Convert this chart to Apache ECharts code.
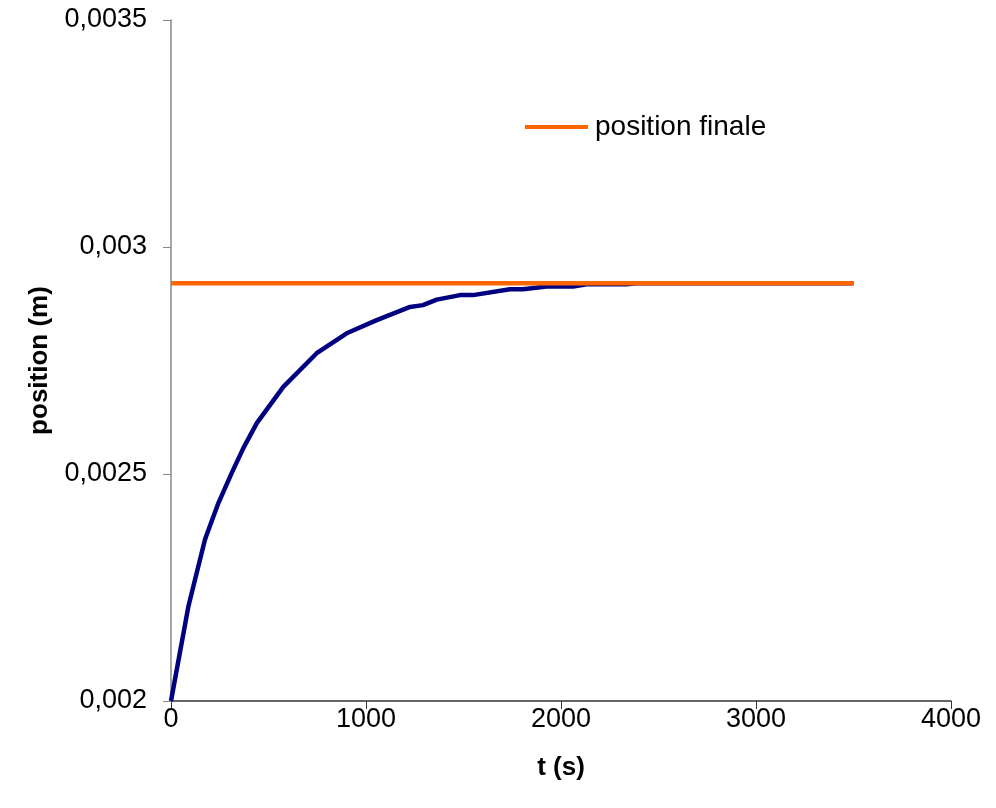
<!DOCTYPE html>
<html>
<head>
<meta charset="utf-8">
<script src="https://cdn.jsdelivr.net/npm/echarts@6/dist/echarts.min.js"></script>
<style>
html,body{margin:0;padding:0;background:#fff;}
#chart{width:996px;height:808px;}
</style>
</head>
<body>
<div id="chart"></div>
<script>
// t (s) and position (m)
var positionT = [0, 89, 174, 183, 243, 311, 371, 440, 576, 747, 901, 1055, 1226, 1292, 1363, 1482, 1549, 1738, 1805, 1926, 2062, 2131, 2336, 2387, 3500];
var positionV = [0.002, 0.002208, 0.002355, 0.002366, 0.002436, 0.002502, 0.002557, 0.002612, 0.002692, 0.002766, 0.00281, 0.002839, 0.002868, 0.002872, 0.002884, 0.002894, 0.002894, 0.002907, 0.002907, 0.002913, 0.002913, 0.002918, 0.002918, 0.00292, 0.00292];
var finalT = [0, 3500];
var finalV = [0.00292, 0.00292];
var xTicks = [0, 1000, 2000, 3000, 4000];
var yTicks = [0.002, 0.0025, 0.003, 0.0035];

function zip(a, b) { return a.map(function (v, i) { return [v, b[i]]; }); }

var chart = echarts.init(document.getElementById('chart'));
var font = 'Liberation Sans, Arial, sans-serif';
chart.setOption({
  animation: false,
  backgroundColor: '#fff',
  grid: { left: 171, right: 45, top: 20, bottom: 107, containLabel: false },
  legend: {
    data: ['position finale'],
    left: 525, top: 113, padding: 0,
    icon: 'rect', itemWidth: 63, itemHeight: 4,
    textStyle: { fontFamily: font, fontSize: 28, color: '#000', padding: [0, 0, 0, 2] }
  },
  xAxis: {
    type: 'value', min: xTicks[0], max: xTicks[xTicks.length - 1], interval: 1000,
    name: 't (s)', nameLocation: 'middle', nameGap: 54,
    nameTextStyle: { fontFamily: font, fontSize: 26, fontWeight: 'bold', color: '#000' },
    axisLine: { show: true, lineStyle: { color: '#333', width: 1.5 } },
    axisTick: { show: true, length: 8, lineStyle: { color: '#333' } },
    axisLabel: { fontFamily: font, fontSize: 27, color: '#000', margin: 5,
      formatter: function (v) { return String(v); } },
    splitLine: { show: false }
  },
  yAxis: {
    type: 'value', min: yTicks[0], max: yTicks[yTicks.length - 1], interval: 0.0005,
    name: 'position (m)', nameLocation: 'middle', nameGap: 118, nameRotate: 90,
    nameTextStyle: { fontFamily: font, fontSize: 26, fontWeight: 'bold', color: '#000' },
    axisLine: { show: true, lineStyle: { color: '#888', width: 1.5 } },
    axisTick: { show: true, length: 8, lineStyle: { color: '#888' } },
    axisLabel: { fontFamily: font, fontSize: 27, color: '#000', margin: 24,
      formatter: function (v) { return String(+v.toFixed(6)).replace('.', ','); } },
    splitLine: { show: false }
  },
  series: [
    { name: 'position', type: 'line', data: zip(positionT, positionV), showSymbol: false,
      lineStyle: { color: '#000080', width: 4.5 }, itemStyle: { color: '#000080' }, z: 2 },
    { name: 'position finale', type: 'line', data: zip(finalT, finalV), showSymbol: false,
      lineStyle: { color: '#FF6600', width: 4.5 }, itemStyle: { color: '#FF6600' }, z: 3 }
  ]
});
</script>
</body>
</html>
